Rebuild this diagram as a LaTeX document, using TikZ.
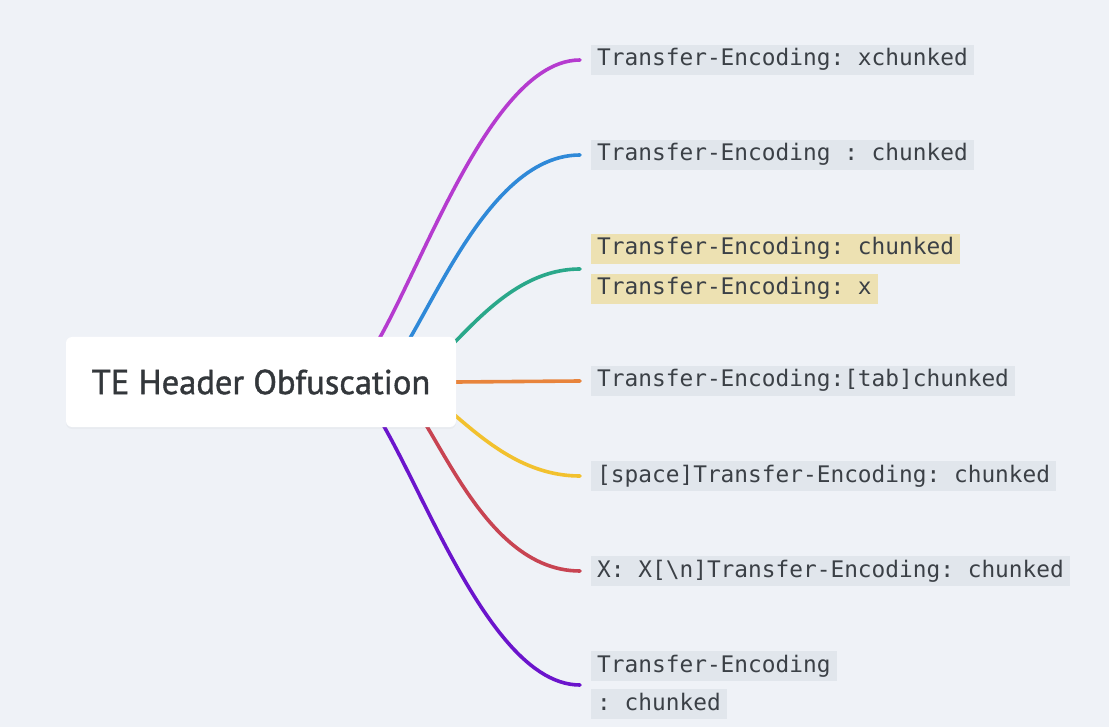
\documentclass[tikz,border=0pt]{standalone}
\usepackage{fontspec}
\newfontfamily\rootfont[FakeBold=1.2]{PT Sans}
\newfontfamily\codefont{DejaVu Sans Mono}
\usetikzlibrary{positioning,calc,backgrounds,shadows}
\definecolor{bgpaper}{HTML}{EFF2F7}
\definecolor{codegray}{HTML}{E1E6EC}
\definecolor{codeyellow}{HTML}{EDE1B2}
\definecolor{codetext}{HTML}{3B4046}
\definecolor{roottext}{HTML}{33373B}
\definecolor{cpurple}{HTML}{B53BCF}
\definecolor{cblue}{HTML}{2F89D8}
\definecolor{cteal}{HTML}{2AA88A}
\definecolor{corange}{HTML}{E8843C}
\definecolor{cyellow}{HTML}{F2C12E}
\definecolor{cred}{HTML}{C84452}
\definecolor{cviolet}{HTML}{6B14CC}
\frenchspacing
\tikzset{
  rootbox/.style={fill=white,rounded corners=6pt,minimum width=390pt,
    minimum height=90pt,inner sep=0pt,text=roottext,
    font=\rootfont\fontsize{34.5}{38}\selectfont,
    drop shadow={shadow xshift=0pt,shadow yshift=-2pt,opacity=0.06}},
  leaf/.style={anchor=west,fill=codegray,text=codetext,inner xsep=6pt,
    inner ysep=4pt,text height=17pt,text depth=5pt,
    font=\codefont\fontsize{22.8}{27}\selectfont},
  hl/.style={leaf,fill=codeyellow},
  branch/.style={line width=3.6pt,line cap=round},
}
\begin{document}
\begin{tikzpicture}[x=1pt,y=-1pt]
  \useasboundingbox (0,0) rectangle (1109,727);
  % ---- root ----
  \node[rootbox] (root) at (261,382) {TE Header Obfuscation};
  % ---- leaves ----
  \node[leaf] (l1) at (591,60) {Transfer-Encoding: xchunked};
  \node[leaf] (l2) at (591,155) {Transfer-Encoding : chunked};
  \node[hl] (l3a) at (591,249) {Transfer-Encoding: chunked};
  \node[hl] (l3b) at (591,289) {Transfer-Encoding: x};
  \node[leaf] (l4) at (591,381) {Transfer-Encoding:[tab]chunked};
  \node[leaf] (l5) at (591,476) {[space]Transfer-Encoding: chunked};
  \node[leaf] (l6) at (591,571) {X: X[\textbackslash n]Transfer-Encoding: chunked};
  \node[leaf] (l7a) at (591,666) {Transfer-Encoding};
  \node[leaf] (l7b) at (591,704) {: chunked};
  % ---- branch ends ----
  \foreach \i in {1,2,4,5,6} \coordinate (e\i) at ([xshift=-11pt]l\i.west);
  \coordinate (e3) at ($(l3a.west)!0.5!(l3b.west)+(-11,0)$);
  \coordinate (e7) at ($(l7a.west)!0.5!(l7b.west)+(-11,0)$);
  % ---- branches, behind the root ----
  \begin{scope}[on background layer]
    \fill[bgpaper] (0,0) rectangle (1109,727);
    \draw[branch,cpurple] ([xshift=79pt]root.center) .. controls +(50,0) and +(-110,0) .. (e1);
    \draw[branch,cblue] ([xshift=110pt]root.center) .. controls +(40,0) and +(-110,0) .. (e2);
    \draw[branch,cteal] ([xshift=139pt]root.center) .. controls +(40,0) and +(-90,0) .. (e3);
    \draw[branch,corange] (root.east) -- (e4);
    \draw[branch,cyellow] ([xshift=139pt]root.center) .. controls +(40,0) and +(-90,0) .. (e5);
    \draw[branch,cred] ([xshift=125pt]root.center) .. controls +(40,0) and +(-110,0) .. (e6);
    \draw[branch,cviolet] ([xshift=82pt]root.center) .. controls +(50,0) and +(-110,0) .. (e7);
  \end{scope}
\end{tikzpicture}
\end{document}
